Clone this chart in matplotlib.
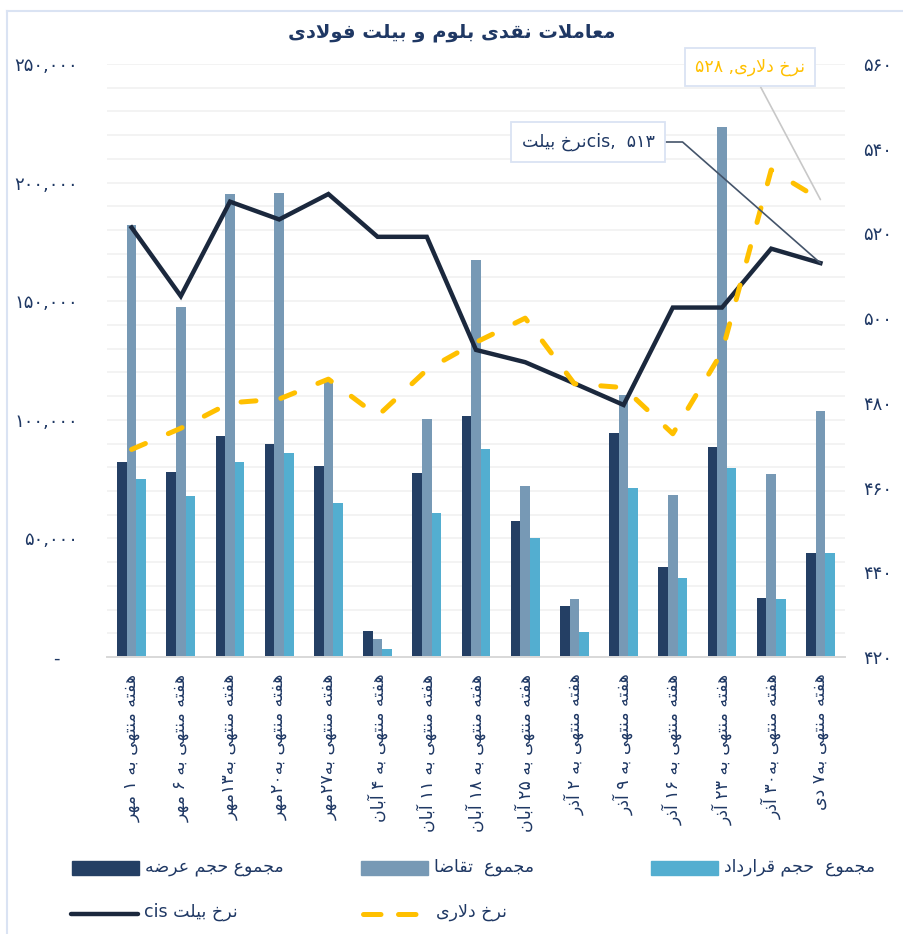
import re
import numpy as np
import matplotlib.pyplot as plt
from matplotlib.ticker import FuncFormatter, MultipleLocator
from matplotlib.lines import Line2D
from matplotlib.patches import Rectangle

plt.rcParams['font.family'] = ['DejaVu Sans']

# داده‌ها
weeks = ['هفته منتهی به ۱ مهر', 'هفته منتهی به ۶ مهر', 'هفته منتهی به۱۳مهر',
         'هفته منتهی به۲۰مهر', 'هفته منتهی به۲۷مهر', 'هفته منتهی به ۴ آبان',
         'هفته منتهی به ۱۱ آبان', 'هفته منتهی به ۱۸ آبان', 'هفته منتهی به ۲۵ آبان',
         'هفته منتهی به ۲ آذر', 'هفته منتهی به ۹ آذر', 'هفته منتهی به ۱۶ آذر',
         'هفته منتهی به ۲۳ آذر', 'هفته منتهی به۳۰ آذر', 'هفته منتهی به۷ دی']
supply = [82000, 77900, 93200, 89900, 80400, 11100, 77400, 101700,
          57200, 21400, 94400, 38000, 88400, 24800, 44000]
demand = [182000, 147400, 195200, 195500, 116400, 7500, 100300, 167200,
          72000, 24500, 110300, 68200, 223300, 77300, 103500]
contract = [74900, 67900, 82300, 86100, 65100, 3400, 60700, 87600,
            50000, 10700, 71200, 33400, 79800, 24300, 44000]
billet_cis = [521.4, 505.2, 527.5, 523.3, 529.3, 519.2, 519.2, 492.5,
              489.6, 484.6, 479.5, 502.5, 502.5, 516.4, 513]
dollar_rate = [469.0, 474.0, 480.0, 480.9, 485.6, 476.9, 487.8, 494.3,
               500.0, 484.5, 483.6, 472.7, 492.0, 535.0, 528]

title = 'معاملات نقدی بلوم و بیلت فولادی'
lbl_supply = 'مجموع حجم عرضه'
lbl_demand = 'مجموع  تقاضا'
lbl_contract = 'مجموع  حجم قرارداد'
lbl_cis = 'نرخ بیلت cis'
lbl_dollar = 'نرخ دلاری'

C_SUP = '#243F64'
C_DEM = '#7799B5'
C_CON = '#53AED0'
C_CIS = '#1B283D'
C_USD = '#FFC000'
C_TXT = '#1F3864'

# شکل‌دهی حروف فارسی (matplotlib خودش این کار را نمی‌کند)
FORMS = {
    'ا': ('\uFE8D', '\uFE8E', None, None),
    'آ': ('\uFE81', '\uFE82', None, None),
    'ب': ('\uFE8F', '\uFE90', '\uFE91', '\uFE92'),
    'ت': ('\uFE95', '\uFE96', '\uFE97', '\uFE98'),
    'ج': ('\uFE9D', '\uFE9E', '\uFE9F', '\uFEA0'),
    'ح': ('\uFEA1', '\uFEA2', '\uFEA3', '\uFEA4'),
    'خ': ('\uFEA5', '\uFEA6', '\uFEA7', '\uFEA8'),
    'د': ('\uFEA9', '\uFEAA', None, None),
    'ذ': ('\uFEAB', '\uFEAC', None, None),
    'ر': ('\uFEAD', '\uFEAE', None, None),
    'ض': ('\uFEBD', '\uFEBE', '\uFEBF', '\uFEC0'),
    'ع': ('\uFEC9', '\uFECA', '\uFECB', '\uFECC'),
    'ف': ('\uFED1', '\uFED2', '\uFED3', '\uFED4'),
    'ق': ('\uFED5', '\uFED6', '\uFED7', '\uFED8'),
    'ل': ('\uFEDD', '\uFEDE', '\uFEDF', '\uFEE0'),
    'م': ('\uFEE1', '\uFEE2', '\uFEE3', '\uFEE4'),
    'ن': ('\uFEE5', '\uFEE6', '\uFEE7', '\uFEE8'),
    'ه': ('\uFEE9', '\uFEEA', '\uFEEB', '\uFEEC'),
    'و': ('\uFEED', '\uFEEE', None, None),
    'ی': ('\uFEEF', '\uFEF0', '\uFEF3', '\uFEF4'),
}
LAM_ALEF = {'ا': ('\uFEFB', '\uFEFC'), 'آ': ('\uFEF5', '\uFEF6')}


def shape(s):
    out = []
    i = 0
    while i < len(s):
        c = s[i]
        if c not in FORMS:
            out.append(c)
            i += 1
            continue
        prev = s[i - 1] if i > 0 else ''
        joined = prev in FORMS and FORMS[prev][2] is not None
        if c == 'ل' and i + 1 < len(s) and s[i + 1] in LAM_ALEF:
            out.append(LAM_ALEF[s[i + 1]][1 if joined else 0])
            i += 2
            continue
        nxt = s[i + 1] if i + 1 < len(s) else ''
        links = FORMS[c][2] is not None and nxt in FORMS
        iso, fin, ini, med = FORMS[c]
        out.append(med if joined and links else fin if joined else ini if links else iso)
        i += 1
    return ''.join(out)


def rtl(s):
    runs = re.findall(r'[0-9۰-۹A-Za-z]+|.', shape(s))
    return ''.join(reversed(runs))


FA = str.maketrans('0123456789', '۰۱۲۳۴۵۶۷۸۹')

W, H = 904, 934
fig = plt.figure(figsize=(W / 100, H / 100), dpi=100)


def fx(px):
    return px / W


def fy(py):
    return 1 - py / H


ax = fig.add_axes([fx(107), fy(657), (845 - 107) / W, (657 - 64) / H])
ax2 = ax.twinx()

x = np.arange(len(weeks))
bw = 0.195
ax.bar(x - bw, supply, bw, color=C_SUP, zorder=2)
ax.bar(x, demand, bw, color=C_DEM, zorder=2)
ax.bar(x + bw, contract, bw, color=C_CON, zorder=2)

ax2.plot(x, billet_cis, color=C_CIS, lw=3.2, solid_joinstyle='miter', zorder=3)
ax2.plot(x, dollar_rate, color=C_USD, lw=3.6, dashes=(3, 5),
         dash_capstyle='round', zorder=4)

ax.set_xlim(-0.5, len(weeks) - 0.5)
ax.set_ylim(0, 250000)
ax2.set_ylim(420, 560)
ax.yaxis.set_major_locator(MultipleLocator(50000))
ax.yaxis.set_minor_locator(MultipleLocator(10000))
ax.yaxis.set_major_formatter(FuncFormatter(
    lambda v, p: '-   ' if v == 0 else f'{int(v):,}'.translate(FA)))
ax2.set_yticks(np.arange(420, 561, 20))
ax2.yaxis.set_major_formatter(FuncFormatter(lambda v, p: f'{int(v)}'.translate(FA)))

ax.grid(axis='y', which='both', color='#F2F2F2', lw=1.3)
ax.set_axisbelow(True)
ax.set_xticks(x)
ax.set_xticklabels([rtl(w) for w in weeks], rotation=90, ha='center', va='top',
                   fontsize=12.5, color=C_TXT)
ax.tick_params(axis='x', length=0, pad=12)
ax.tick_params(axis='y', which='both', length=0, pad=21, labelsize=13, labelcolor=C_TXT)
ax2.tick_params(axis='y', length=0, pad=13, labelsize=13, labelcolor=C_TXT)
for a in (ax, ax2):
    for side in ('top', 'left', 'right'):
        a.spines[side].set_visible(False)
    a.spines['bottom'].set_color('#D9D9D9')
    a.spines['bottom'].set_linewidth(1.3)

# برچسب‌های آخرین نقطه
ax2.annotate(rtl('نرخ دلاری, ۵۲۸'), xy=(x[-1], dollar_rate[-1]),
             xytext=(fx(750), fy(67)), textcoords='figure fraction',
             ha='center', va='center', fontsize=12.5, color=C_USD,
             bbox=dict(boxstyle='square,pad=0.6', fc='white', ec='#DAE3F3', lw=1.3),
             arrowprops=dict(arrowstyle='-', color='#C8C8C8', lw=1.2,
                             shrinkA=0, shrinkB=0), zorder=6)
ax2.annotate(rtl('نرخ بیلت') + 'cis,  ' + '۵۱۳', xy=(x[-1], billet_cis[-1]),
             xytext=(fx(588), fy(142)), textcoords='figure fraction',
             ha='center', va='center', fontsize=12.5, color=C_TXT,
             bbox=dict(boxstyle='square,pad=0.6', fc='white', ec='#DAE3F3', lw=1.3),
             arrowprops=dict(arrowstyle='-', color='#44546A', lw=1.2, shrinkA=0,
                             shrinkB=0,
                             connectionstyle='angle,angleA=0,angleB=-41.3,rad=0'),
             zorder=6)

fig.text(fx(452), fy(33), rtl(title), ha='center', va='center', fontsize=14,
         fontweight='bold', color=C_TXT)

# قاب دور نمودار
fig.add_artist(Line2D([fx(7), 1], [fy(11), fy(11)], color='#DAE3F3', lw=1.5))
fig.add_artist(Line2D([fx(7), fx(7)], [fy(11), 0], color='#DAE3F3', lw=1.5))

# راهنما
for px, col, lbl in [(72, C_SUP, lbl_supply), (361, C_DEM, lbl_demand),
                     (651, C_CON, lbl_contract)]:
    fig.add_artist(Rectangle((fx(px), fy(875)), 67 / W, 14 / H, color=col,
                             transform=fig.transFigure))
    fig.text(fx(px + 73), fy(867), rtl(lbl), ha='left', va='center',
             fontsize=12.5, color=C_TXT)
fig.add_artist(Line2D([fx(71), fx(138)], [fy(914), fy(914)], color=C_CIS, lw=3.2,
                      solid_capstyle='round'))
fig.text(fx(144), fy(912), rtl(lbl_cis), ha='left', va='center', fontsize=12.5, color=C_TXT)
fig.add_artist(Line2D([fx(363), fx(423)], [fy(914), fy(914)], color=C_USD, lw=3.6,
                      dashes=(3.5, 3.5), dash_capstyle='round'))
fig.text(fx(436), fy(912), rtl(lbl_dollar), ha='left', va='center', fontsize=12.5, color=C_TXT)

fig.savefig('out.png', dpi=100, facecolor='white')
